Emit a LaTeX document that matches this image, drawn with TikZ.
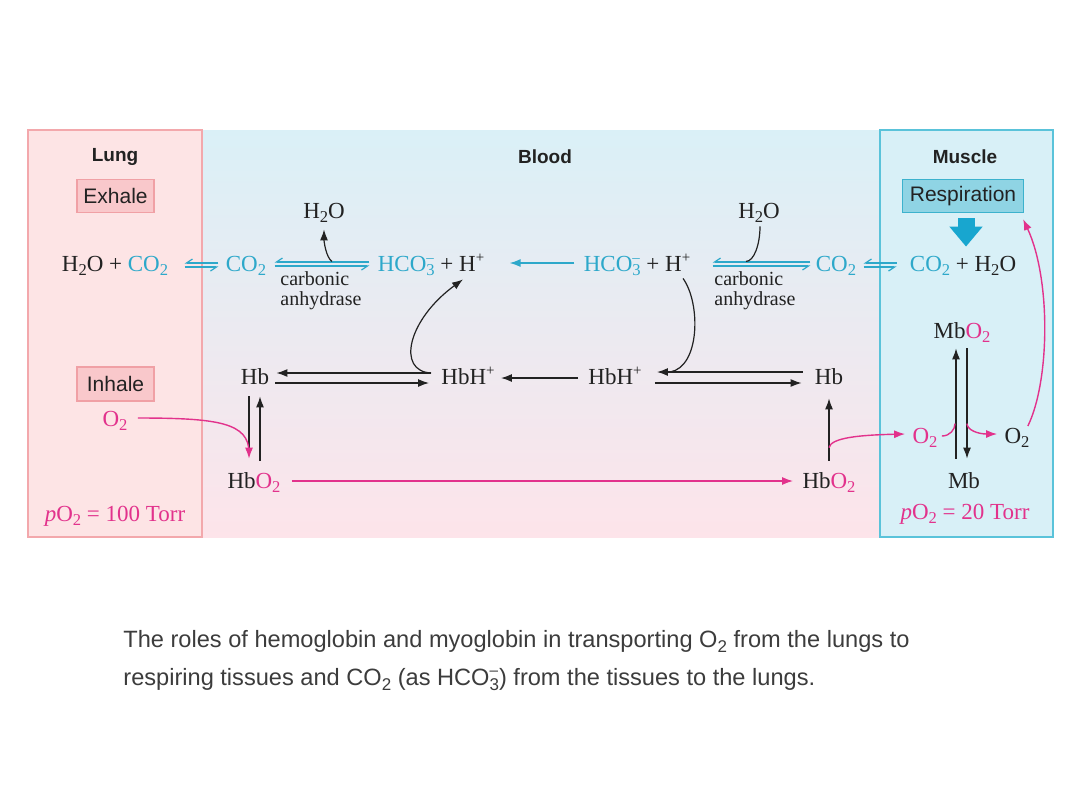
\documentclass[tikz,border=0pt]{standalone}
\usepackage{fontspec}
\setmainfont{Liberation Serif}
\setsansfont{Liberation Sans}
\usetikzlibrary{arrows.meta,calc}
\definecolor{cy}{RGB}{45,168,202}
\definecolor{cyb}{RGB}{24,166,207}
\definecolor{pk}{RGB}{226,50,140}
\definecolor{ink}{RGB}{34,34,34}
\definecolor{captxt}{RGB}{60,60,60}
\definecolor{lungfill}{RGB}{253,228,229}
\definecolor{lungdraw}{RGB}{243,168,172}
\definecolor{musfill}{RGB}{216,240,247}
\definecolor{musdraw}{RGB}{90,195,218}
\definecolor{bloodtop}{RGB}{218,240,247}
\definecolor{bloodbot}{RGB}{253,228,234}
\definecolor{exfill}{RGB}{249,200,203}
\definecolor{exdraw}{RGB}{240,160,165}
\definecolor{resfill}{RGB}{143,212,228}
\definecolor{resdraw}{RGB}{60,178,205}
\newcommand\chdn[1]{\raisebox{-0.45ex}{\scalebox{0.72}{#1}}}
\newcommand\chup[1]{\raisebox{0.8ex}{\scalebox{0.65}{#1}}}
\newcommand\bicarb{HCO\rlap{\chup{\textendash}}\chdn{3}}
\tikzset{
 chem/.style={font=\fontsize{11.5}{13}\selectfont,text=ink,inner sep=0pt,text height=7.5pt,text depth=2.5pt,anchor=base},
 hdr/.style={font=\sffamily\bfseries\fontsize{9.5}{11}\selectfont,text=ink,inner sep=0pt},
 tag/.style={font=\sffamily\fontsize{10.5}{12}\selectfont,text=ink,inner sep=0pt,line width=0.6pt},
 enz/.style={font=\fontsize{10}{10}\selectfont,text=ink,inner sep=0pt,align=left,anchor=north west},
 blk/.style={draw=ink,line width=0.6pt,-{Latex[length=5.5pt,width=4pt]}},
 pkarr/.style={draw=pk,line width=0.7pt,-{Latex[length=5.5pt,width=4pt]}},
 pkline/.style={draw=pk,line width=0.7pt},
 cyarr/.style={draw=cy,line width=0.7pt,-{Latex[length=5.5pt,width=4pt]}},
 harp/.style={draw=cy,line width=0.6pt,-{Straight Barb[harpoon,swap,length=3pt,width=4pt]}},
 captext/.style={font=\sffamily\fontsize{11.8}{13}\selectfont,text=captxt,inner sep=0pt,anchor=base west},
}
\begin{document}
\begin{tikzpicture}[x=0.5pt,y=-0.5pt]
\useasboundingbox (0,0) rectangle (1080,810);
\fill[white] (0,0) rectangle (1080,810);
% regions
\shade[top color=bloodtop,bottom color=bloodbot] (202,130) rectangle (880,537);
\filldraw[fill=lungfill,draw=lungdraw,line width=0.6pt] (28,130) rectangle (202,537);
\filldraw[fill=musfill,draw=musdraw,line width=0.7pt] (880,130) rectangle (1053,537);
% headers and tags
\node[hdr] (lung) at (115,157) {Lung};
\node[hdr] (blood) at (545,157) {Blood};
\node[hdr] (muscle) at (965,157) {Muscle};
\node[tag,fill=exfill,draw=exdraw,minimum width=38.5pt,minimum height=16.5pt] (exhale) at (115.5,196) {Exhale};
\node[tag,fill=exfill,draw=exdraw,minimum width=38.5pt,minimum height=17pt] (inhale) at (115.5,384) {Inhale};
\node[tag,fill=resfill,draw=resdraw,minimum width=60.5pt,minimum height=16.5pt] (resp) at (963,196) {Respiration};
% row 1
\node[chem] (lungeq) at (115,271) {H\chdn{2}O + \textcolor{cy}{CO\chdn{2}}};
\node[chem,text=cy] (co2a) at (246,271) {CO\chdn{2}};
\node[chem] (hco3a) at (431,271) {\textcolor{cy}{\bicarb} + H\chup{+}};
\node[chem] (hco3b) at (637,271) {\textcolor{cy}{\bicarb} + H\chup{+}};
\node[chem,text=cy] (co2b) at (836,271) {CO\chdn{2}};
\node[chem] (museq) at (963,271) {\textcolor{cy}{CO\chdn{2}} + H\chdn{2}O};
\node[chem] (h2oa) at (324,218) {H\chdn{2}O};
\node[chem] (h2ob) at (759,218) {H\chdn{2}O};
\node[enz] (enza) at (280,271) {carbonic\\anhydrase};
\node[enz] (enzb) at (714,271) {carbonic\\anhydrase};
% row 2
\node[chem] (hba) at (255,384) {Hb};
\node[chem] (hbha) at (468,384) {HbH\chup{+}};
\node[chem] (hbhb) at (615,384) {HbH\chup{+}};
\node[chem] (hbb) at (829,384) {Hb};
\node[chem] (mbo2) at (962,338) {Mb\textcolor{pk}{O\chdn{2}}};
% row 3
\node[chem] (hbo2a) at (254,488) {Hb\textcolor{pk}{O\chdn{2}}};
\node[chem] (hbo2b) at (829,488) {Hb\textcolor{pk}{O\chdn{2}}};
\node[chem] (mb) at (964,488) {Mb};
\node[chem,text=pk] (o2l) at (925,443) {O\chdn{2}};
\node[chem] (o2r) at (1017,443) {O\chdn{2}};
\node[chem,text=pk] (o2in) at (115,426) {O\chdn{2}};
\node[chem,text=pk] (po2a) at (115,521) {\textit{p}O\chdn{2} = 100 Torr};
\node[chem,text=pk] (po2b) at (965,519) {\textit{p}O\chdn{2} = 20 Torr};
% caption
\node[captext] (cap1) at (123,647) {The roles of hemoglobin and myoglobin in transporting O\chdn{2} from the lungs to};
\node[captext] (cap2) at (123,685) {respiring tissues and CO\chdn{2} (as HCO\rlap{\chup{\textendash}}\chdn{3}) from the tissues to the lungs.};
% thick respiration arrow
\draw[cyb,line width=8.5pt,-{Triangle[length=10pt,width=16pt]}] ($(resp.south)+(3,5)$) -- ($(museq.north)+(3,-9)$);
% row 1 equilibria
\draw[harp] ($(co2a.west)+(-7,-3)$) -- ($(lungeq.east)+(16,-3)$);
\draw[harp] ($(lungeq.east)+(16,1)$) -- ($(co2a.west)+(-7,1)$);
\draw[harp] ($(hco3a.west)+(-8,-4)$) -- ($(co2a.east)+(8,-4)$);
\draw[harp] ($(co2a.east)+(8,0)$) -- ($(hco3a.west)+(-8,0)$);
\draw[harp] ($(co2b.west)+(-5,-4)$) -- ($(hco3b.east)+(22,-4)$);
\draw[harp] ($(hco3b.east)+(22,0)$) -- ($(co2b.west)+(-5,0)$);
\draw[harp] ($(museq.west)+(-13,-3)$) -- ($(co2b.east)+(7,-3)$);
\draw[harp] ($(co2b.east)+(7,1)$) -- ($(museq.west)+(-13,1)$);
\draw[cyarr] ($(hco3b.west)+(-9,-3)$) -- ($(hco3a.east)+(25,-3)$);
% water
\draw[blk] ($(h2oa.south)+(8,38)$) .. controls +(-6,-4) and +(0,12) .. ($(h2oa.south)+(0,6)$);
\draw[draw=ink,line width=0.6pt] ($(h2ob.south)+(1,3)$) .. controls +(0,18) and +(8,0) .. ($(h2ob.south)+(-13,38)$);
% row 2
\draw[blk] ($(hbha.west)+(-10,-6)$) -- ($(hba.east)+(7,-6)$);
\draw[blk] ($(hba.east)+(6,4)$) -- ($(hbha.west)+(-12,4)$);
\draw[blk] ($(hbhb.west)+(-10,-1)$) -- ($(hbha.east)+(6,-1)$);
\draw[blk] ($(hbb.west)+(-12,-7)$) -- ($(hbhb.east)+(15,-7)$);
\draw[blk] ($(hbhb.east)+(13,4)$) -- ($(hbb.west)+(-13,4)$);
\draw[blk] ($(hbha.west)+(-10,-6)$) .. controls +(-35,-2) and +(-55,40) .. ($(hco3a.south)+(32,3)$);
\draw[draw=ink,line width=0.6pt] ($(hco3b.south)+(46,2)$) .. controls +(18,25) and +(30,-5) .. ($(hbhb.east)+(28,-7)$);
% vertical Hb / HbO2
\draw[draw=ink,line width=0.6pt,-{Latex[length=5.5pt,width=4pt,color=pk]}] ($(hba.south)+(-6,7)$) -- ($(hbo2a.north)+(-5,-14)$);
\draw[blk] ($(hbo2a.north)+(6,-12)$) -- ($(hba.south)+(5,7)$);
\draw[pkline] ($(o2in.east)+(10,-3)$) .. controls +(80,0) and +(0,-30) .. ($(hbo2a.north)+(-5,-20)$);
\draw[pkarr] ($(hbo2a.east)+(11,-2)$) -- ($(hbo2b.west)+(-9,-2)$);
\draw[blk] ($(hbo2b.north)+(0,-12)$) -- ($(hbb.south)+(0,9)$);
\draw[pkarr] ($(hbo2b.north)+(0,-25)$) .. controls +(2,-10) and +(-45,1) .. ($(o2l.west)+(-7,-4)$);
% myoglobin
\draw[blk] ($(mb.north)+(-8,-14)$) -- ($(mbo2.south)+(-6,5)$);
\draw[blk] ($(mbo2.south)+(5,5)$) -- ($(mb.north)+(3,-14)$);
\draw[pkline] ($(o2l.east)+(4,-2)$) .. controls +(8,0) and +(0,6) .. ($(mb.north)+(-9,-49)$);
\draw[pkarr] ($(mb.north)+(3,-49)$) .. controls +(0,6) and +(-20,0) .. ($(o2r.west)+(-7,-4)$);
\draw[pkarr] ($(o2r.east)+(-2,-12)$) .. controls +(22,-45) and +(28,60) .. ($(resp.south east)+(-1,6)$);
\end{tikzpicture}
\end{document}
